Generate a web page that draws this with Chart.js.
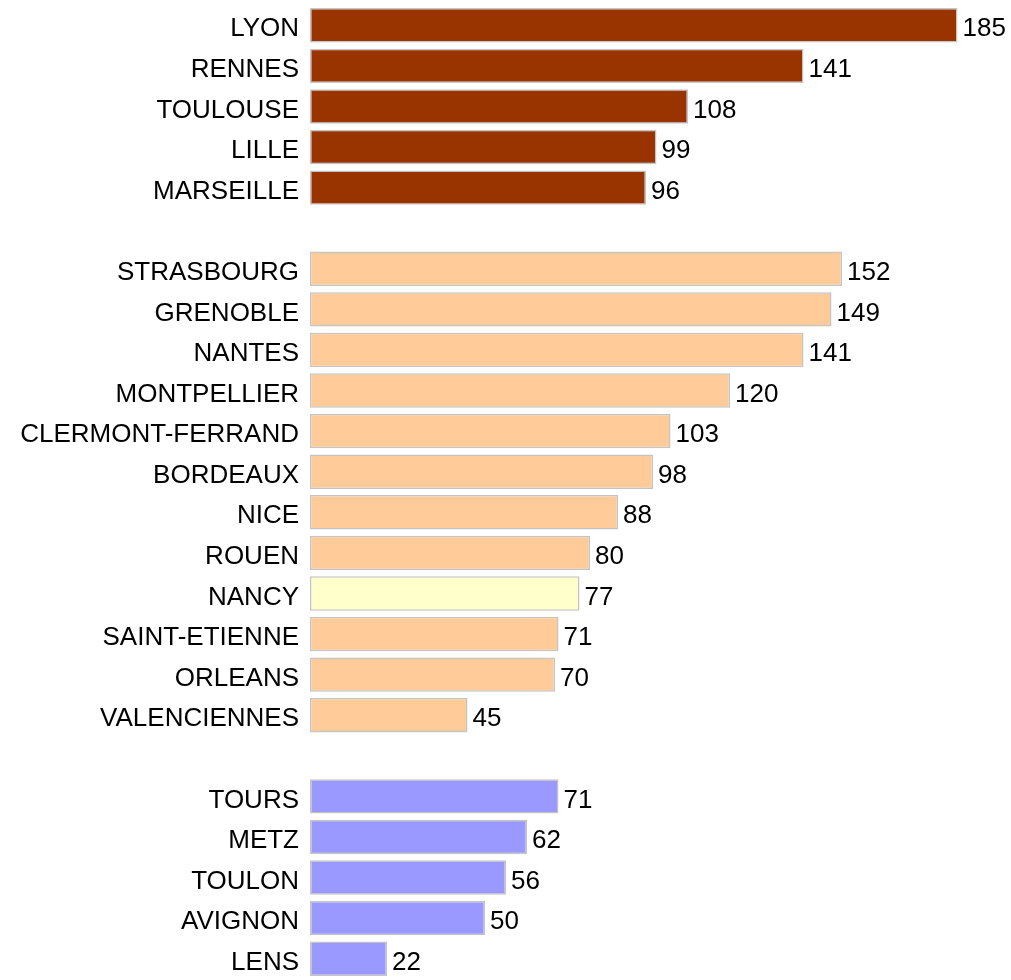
<!DOCTYPE html>
<html>
<head>
<meta charset="utf-8">
<script src="https://cdn.jsdelivr.net/npm/chart.js@4/dist/chart.umd.min.js"></script>
<style>
  html, body { margin: 0; padding: 0; background: #fff; overflow: hidden; }
  #wrap { width: 1011px; height: 990px; position: relative; }
</style>
</head>
<body>
<div id="wrap"><canvas id="villes"></canvas></div>
<script>
// empty strings are the spacer rows between the three groups
const cities = [
  'LYON', 'RENNES', 'TOULOUSE', 'LILLE', 'MARSEILLE',
  '',
  'STRASBOURG', 'GRENOBLE', 'NANTES', 'MONTPELLIER', 'CLERMONT-FERRAND', 'BORDEAUX',
  'NICE', 'ROUEN', 'NANCY', 'SAINT-ETIENNE', 'ORLEANS', 'VALENCIENNES',
  '',
  'TOURS', 'METZ', 'TOULON', 'AVIGNON', 'LENS'
];
const values = [
  185, 141, 108, 99, 96,
  null,
  152, 149, 141, 120, 103, 98, 88, 80, 77, 71, 70, 45,
  null,
  71, 62, 56, 50, 22
];
const groups = [
  'top', 'top', 'top', 'top', 'top',
  '',
  'mid', 'mid', 'mid', 'mid', 'mid', 'mid', 'mid', 'mid', 'hl', 'mid', 'mid', 'mid',
  '',
  'low', 'low', 'low', 'low', 'low'
];

const groupColors = { top: '#993300', mid: '#ffcc99', hl: '#ffffcc', low: '#9999ff', '': 'rgba(0,0,0,0)' };

const valueLabels = {
  id: 'valueLabels',
  afterDatasetsDraw(chart) {
    const ctx = chart.ctx;
    const meta = chart.getDatasetMeta(0);
    ctx.save();
    ctx.font = '26px "Liberation Sans", Arial, sans-serif';
    ctx.fillStyle = '#000';
    ctx.textAlign = 'left';
    ctx.textBaseline = 'middle';
    meta.data.forEach((bar, i) => {
      if (values[i] == null) return;
      ctx.fillText(String(values[i]), bar.x + 5, bar.y + 4);
    });
    ctx.restore();
  }
};

new Chart(document.getElementById('villes'), {
  type: 'bar',
  data: {
    labels: cities,
    datasets: [{
      data: values,
      backgroundColor: groups.map(g => groupColors[g]),
      borderColor: '#c4c4c4',
      borderWidth: 1.5,
      borderSkipped: false,
      barPercentage: 0.85,
      categoryPercentage: 1
    }]
  },
  options: {
    indexAxis: 'y',
    responsive: true,
    maintainAspectRatio: false,
    animation: false,
    layout: { padding: { top: 5, bottom: 11, left: 0, right: 1 } },
    plugins: {
      legend: { display: false },
      tooltip: { enabled: false }
    },
    scales: {
      x: { display: false, min: 0, max: 200 },
      y: {
        grid: { display: false, drawTicks: false },
        border: { display: false },
        ticks: {
          color: '#000',
          padding: 11,
          labelOffset: 4,
          autoSkip: false,
          font: { family: '"Liberation Sans", Arial, sans-serif', size: 26 }
        },
        afterFit(scale) {
          scale.width = 310;
          scale.paddingTop = 0;
          scale.paddingBottom = 0;
        }
      }
    }
  },
  plugins: [valueLabels]
});
</script>
</body>
</html>
